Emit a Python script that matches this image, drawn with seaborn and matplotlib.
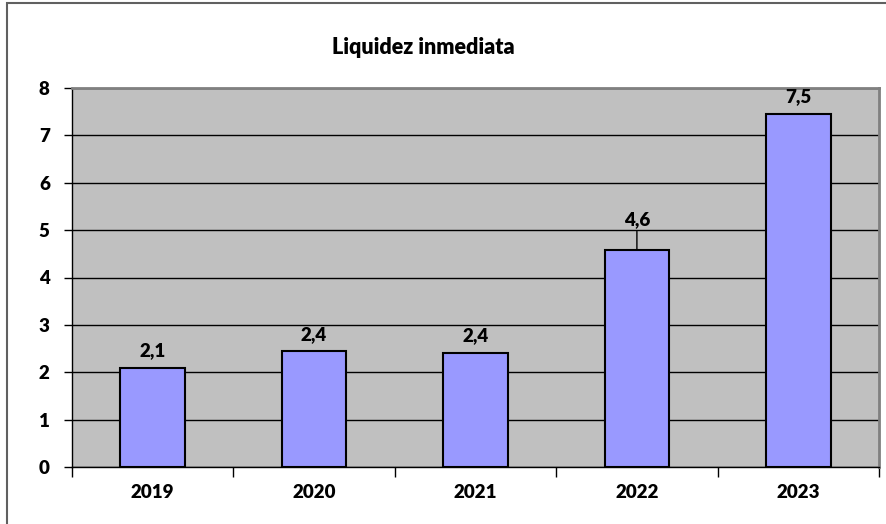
import matplotlib
matplotlib.use("Agg")
import matplotlib.pyplot as plt
import seaborn as sns
import pandas as pd

# datos
years = ["2019", "2020", "2021", "2022", "2023"]
values = [2.09, 2.44, 2.41, 4.59, 7.45]
labels = ["2,1", "2,4", "2,4", "4,6", "7,5"]

df = pd.DataFrame({"year": years, "value": values})

sns.set_style("white")
plt.rcParams["font.family"] = ["Lato", "DejaVu Sans"]
plt.rcParams["text.color"] = "black"
plt.rcParams["xtick.color"] = "black"
plt.rcParams["ytick.color"] = "black"

fig = plt.figure(figsize=(8.86, 5.24), dpi=100)
ax = fig.add_axes([72 / 886, 1 - 467 / 524, (879 - 72) / 886, (467 - 88) / 524])

sns.barplot(data=df, x="year", y="value", color="#9999FF", saturation=1,
            width=0.4, edgecolor="black", linewidth=1.5, ax=ax, zorder=3)

ax.set_facecolor("#C0C0C0")
ax.set_ylim(0, 8)
ax.set_xlim(-0.5, 4.5)
ax.set_yticks(range(0, 9))
ax.yaxis.grid(True, color="black", linewidth=1)
ax.set_axisbelow(True)
ax.set_xlabel("")
ax.set_ylabel("")

for s in ["top", "right"]:
    ax.spines[s].set_color("#808080")
    ax.spines[s].set_linewidth(2)
for s in ["left", "bottom"]:
    ax.spines[s].set_color("black")
    ax.spines[s].set_linewidth(1)

# ticks de categoria en los bordes
ax.set_xticks([i - 0.5 for i in range(6)], minor=True)
ax.tick_params(axis="x", which="major", length=0, pad=12, labelsize=13.5)
ax.tick_params(axis="x", which="minor", length=7, direction="out", width=1, color="black")
ax.tick_params(axis="y", length=6, direction="out", width=1, color="black", pad=10, labelsize=13.5)
ax.yaxis.set_ticks_position("left")
ax.xaxis.set_ticks_position("bottom")
for t in ax.get_xticklabels() + ax.get_yticklabels():
    t.set_fontweight("heavy")

# etiquetas de datos
for i, (bar, lab) in enumerate(zip(ax.patches, labels)):
    x = bar.get_x() + bar.get_width() / 2
    h = bar.get_height()
    if years[i] == "2022":
        ax.annotate(lab, xy=(x, h), xytext=(0, 30), textcoords="offset pixels",
                    ha="center", va="center", fontsize=13.5, fontweight="heavy",
                    arrowprops=dict(arrowstyle="-", color="black", lw=1,
                                    shrinkA=0, shrinkB=0))
    else:
        ax.annotate(lab, xy=(x, h), xytext=(0, 17), textcoords="offset pixels",
                    ha="center", va="center", fontsize=13.5, fontweight="heavy")

fig.text(423 / 886, 1 - 47 / 524, "Liquidez inmediata", ha="center", va="center",
         fontsize=15.5, fontweight="heavy")

# borde del area del grafico
border = plt.Rectangle((7 / 886, -0.1), 1.2, 1 - 3 / 524 + 0.1, transform=fig.transFigure,
                       fill=False, edgecolor="#606060", linewidth=1.5)
fig.patches.append(border)

fig.savefig("out.png", dpi=100)
